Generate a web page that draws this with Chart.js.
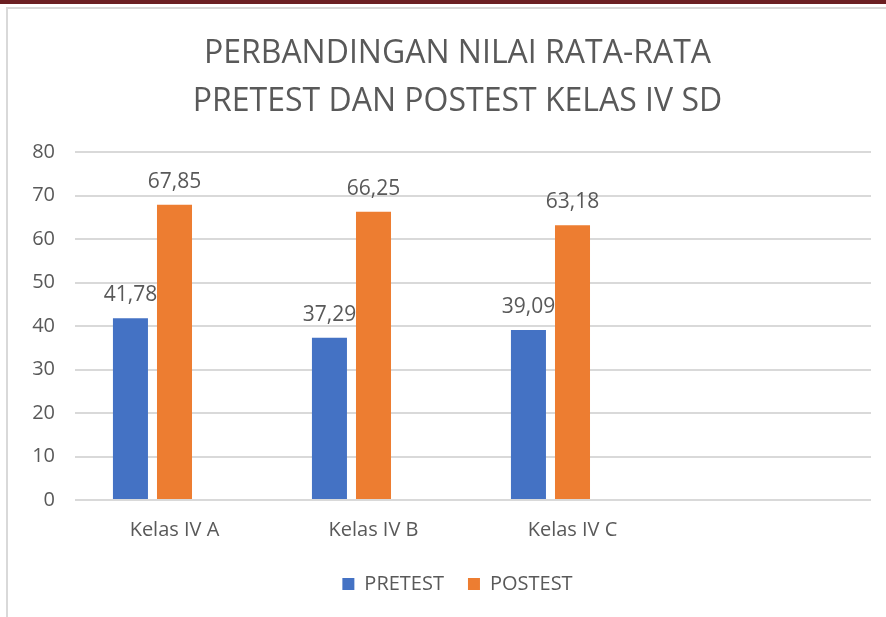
<!DOCTYPE html>
<html>
<head>
<meta charset="utf-8">
<script src="https://cdn.jsdelivr.net/npm/chart.js@4"></script>
<style>
  html, body { margin:0; padding:0; background:#fff; }
  body { width:886px; height:617px; position:relative; overflow:hidden; }
  #topbar { position:absolute; left:0; top:0; width:886px; height:4px; background:#6b1f22; }
  #frame { position:absolute; left:6px; top:7px; width:900px; height:640px; border:2px solid #d9d9d9; box-sizing:border-box; }
  #wrap { position:absolute; left:0; top:0; width:886px; height:617px; }
</style>
</head>
<body>
<div id="topbar"></div>
<div id="frame"></div>
<div id="wrap"><canvas id="c" width="886" height="617"></canvas></div>
<script>
const categories = ['Kelas IV A', 'Kelas IV B', 'Kelas IV C', ''];
const pretest = [41.78, 37.29, 39.09, null];
const postest = [67.85, 66.25, 63.18, null];
const yTicks = [0, 10, 20, 30, 40, 50, 60, 70, 80];
const titleLines = ['PERBANDINGAN NILAI RATA-RATA', 'PRETEST DAN POSTEST KELAS IV SD'];

const FONT = "'Open Sans', 'Noto Sans', sans-serif";
const TXT = '#595959';

const labelPlugin = {
  id: 'barLabels',
  afterDatasetsDraw(chart) {
    const ctx = chart.ctx;
    ctx.save();
    ctx.font = '21px ' + FONT;
    ctx.fillStyle = TXT;
    ctx.textAlign = 'center';
    ctx.textBaseline = 'alphabetic';
    chart.data.datasets.forEach((ds, i) => {
      if (ds.noLabel) return;
      const meta = chart.getDatasetMeta(i);
      meta.data.forEach((el, j) => {
        const v = ds.data[j];
        if (v == null) return;
        ctx.fillText(v.toFixed(2).replace('.', ','), el.x, el.y - 17);
      });
    });
    ctx.restore();
  }
};

// shift title and legend boxes slightly right (centred like the original)
const shiftPlugin = {
  id: 'shiftBoxes',
  afterLayout(chart) {
    if (chart.titleBlock) chart.titleBlock.left += 24;
    if (chart.legend) chart.legend.left += 24;
  }
};

new Chart(document.getElementById('c'), {
  type: 'bar',
  data: {
    labels: categories,
    datasets: [
      { label: 'PRETEST', data: pretest, backgroundColor: '#4472C4' },
      { label: 'POSTEST', data: postest, backgroundColor: '#ED7D31' },
      { label: '', data: [null, null, null, null], backgroundColor: 'rgba(0,0,0,0)', noLabel: true }
    ]
  },
  options: {
    responsive: false,
    animation: false,
    devicePixelRatio: 1,
    datasets: { bar: { categoryPercentage: 0.664, barPercentage: 0.795 } },
    layout: { padding: { left: 20, right: 15, top: 30, bottom: 13 } },
    plugins: {
      title: {
        display: true,
        text: titleLines,
        color: TXT,
        font: { family: FONT, size: 32, weight: 'normal', lineHeight: 1.5 },
        padding: { top: 0, bottom: 26 }
      },
      legend: {
        position: 'bottom',
        labels: {
          color: TXT,
          font: { family: FONT, size: 20 },
          boxWidth: 12, boxHeight: 12,
          padding: 24,
          filter: (item) => item.text !== ''
        }
      },
      tooltip: { enabled: false }
    },
    scales: {
      x: {
        grid: { display: false, drawTicks: false },
        border: { display: false },
        ticks: { color: TXT, font: { family: FONT, size: 20 }, padding: 18, maxRotation: 0 },
        afterFit: (s) => { s.height = 50; }
      },
      y: {
        min: 0, max: 80,
        afterBuildTicks: (s) => { s.ticks = yTicks.map(v => ({ value: v })); },
        grid: { color: '#d9d9d9', lineWidth: 2, drawTicks: false },
        border: { display: false },
        ticks: { color: TXT, font: { family: FONT, size: 20 }, padding: 20 },
        afterFit: (s) => { s.width = 55; }
      }
    }
  },
  plugins: [labelPlugin, shiftPlugin]
});
</script>
</body>
</html>
